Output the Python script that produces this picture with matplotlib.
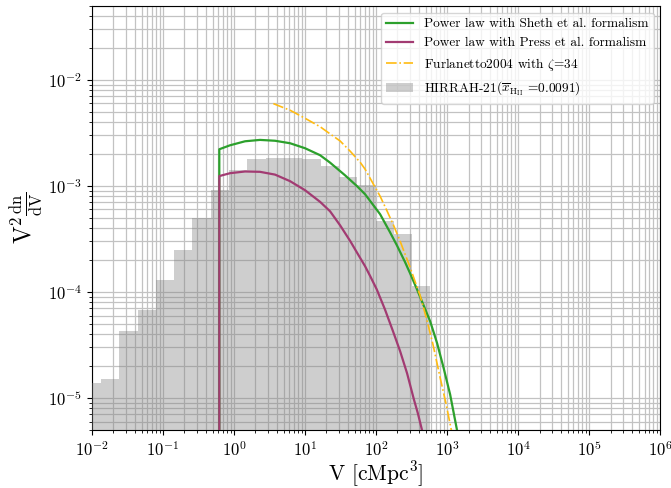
import matplotlib
matplotlib.use('Agg')
import matplotlib.pyplot as plt
import numpy as np

plt.rcParams['font.family'] = 'serif'
plt.rcParams['font.serif'] = ['cmr10']
plt.rcParams['mathtext.fontset'] = 'cm'
plt.rcParams['axes.formatter.use_mathtext'] = True
plt.rcParams['axes.unicode_minus'] = False

# HIRRAH-21 bubble size distribution (log-spaced bins)
bin_edges = [0.0074, 0.0134, 0.0243, 0.0439, 0.0794, 0.144, 0.260, 0.471, 0.853, 1.54,
             2.79, 5.06, 9.16, 16.6, 30.0, 54.3, 98.4, 178.0, 322.0, 583.0]
hist_vals = [1.38e-5, 1.5e-5, 4.26e-5, 6.7e-5, 1.29e-4, 2.47e-4, 5.0e-4, 9.1e-4, 1.43e-3,
             1.79e-3, 1.85e-3, 1.85e-3, 1.79e-3, 1.55e-3, 1.22e-3, 1.02e-3, 4.7e-4, 3.5e-4,
             1.13e-4]

# power law, Sheth et al. formalism
V_sheth = [0.621, 0.621, 0.879, 1.43, 2.32, 3.78, 6.15, 10.0, 16.3, 22.5, 36.6, 53.5, 70.0,
           91.6, 114, 157, 196, 256, 301, 374, 459, 577, 723, 887, 1102, 1370, 1450]
y_sheth = [0.0, 2.22e-3, 2.42e-3, 2.64e-3, 2.72e-3, 2.67e-3, 2.53e-3, 2.27e-3, 1.95e-3,
           1.66e-3, 1.26e-3, 1.0e-3, 8.35e-4, 6.58e-4, 5.41e-4, 3.66e-4, 2.76e-4, 1.91e-4,
           1.50e-4, 1.07e-4, 7.67e-5, 5.29e-5, 3.28e-5, 1.95e-5, 1.08e-5, 5.07e-6, 4.2e-6]

# power law, Press et al. formalism
V_press = [0.621, 0.621, 0.879, 1.43, 2.32, 3.78, 6.15, 10.0, 16.3, 22.5, 31.1, 43.4, 53.5,
           70.0, 82.2, 102, 133, 173, 218, 273, 340, 387, 440, 480]
y_press = [0.0, 1.24e-3, 1.32e-3, 1.37e-3, 1.36e-3, 1.28e-3, 1.11e-3, 9.12e-4, 7.08e-4,
           5.77e-4, 4.26e-4, 3.01e-4, 2.37e-4, 1.75e-4, 1.42e-4, 1.06e-4, 6.87e-5, 4.26e-5,
           2.76e-5, 1.71e-5, 9.73e-6, 7.18e-6, 5.07e-6, 3.9e-6]

# Furlanetto 2004, zeta = 34
V_furl = [3.58, 6.15, 10.0, 16.3, 22.5, 31.1, 43.4, 60.2, 70.0, 91.6, 114, 139, 176, 218,
          256, 301, 374, 416, 516, 631, 790, 968, 1140, 1250]
y_furl = [5.98e-3, 5.18e-3, 4.35e-3, 3.62e-3, 3.10e-3, 2.66e-3, 2.12e-3, 1.66e-3, 1.44e-3,
          1.04e-3, 8.0e-4, 6.03e-4, 4.26e-4, 3.01e-4, 2.27e-4, 1.71e-4, 1.13e-4, 9.31e-5,
          5.52e-5, 3.21e-5, 1.60e-5, 8.73e-6, 5.07e-6, 3.7e-6]

fig = plt.figure(figsize=(6.71, 4.88), dpi=100)
ax = fig.add_axes([0.137, 0.119, 0.847, 0.869])
ax.set_xscale('log')
ax.set_yscale('log')

ax.plot(V_sheth, y_sheth, color='#2ca02c', lw=1.6, zorder=4,
        label='Power law with Sheth et al. formalism')
ax.plot(V_press, y_press, color='#a23b72', lw=1.6, zorder=4,
        label='Power law with Press et al. formalism')
ax.plot(V_furl, y_furl, color='#ffbb12', lw=1.2, ls='-.', zorder=4,
        label=r'Furlanetto2004 with $\zeta$=34')
widths = np.diff(bin_edges)
ax.bar(bin_edges[:-1], hist_vals, width=widths, align='edge', color='gray', alpha=0.38,
       zorder=3, label=r'HIRRAH-21($\overline{x}_{\mathrm{H_{II}}}$ =0.0091)')

ax.set_xlim(1e-2, 1e6)
ax.set_ylim(5e-6, 5e-2)
ax.grid(True, which='both', color='#c2c2c2', lw=0.9)
ax.tick_params(labelsize=12)
ax.set_xlabel(r'V [cMpc$^3$]', fontsize=15.5, labelpad=0)
ax.set_ylabel(r'$\mathrm{V^2\frac{dn}{dV}}$', fontsize=17, labelpad=2)
ax.legend(loc='upper right', fontsize=9.6)

fig.savefig('out.png', dpi=100)
